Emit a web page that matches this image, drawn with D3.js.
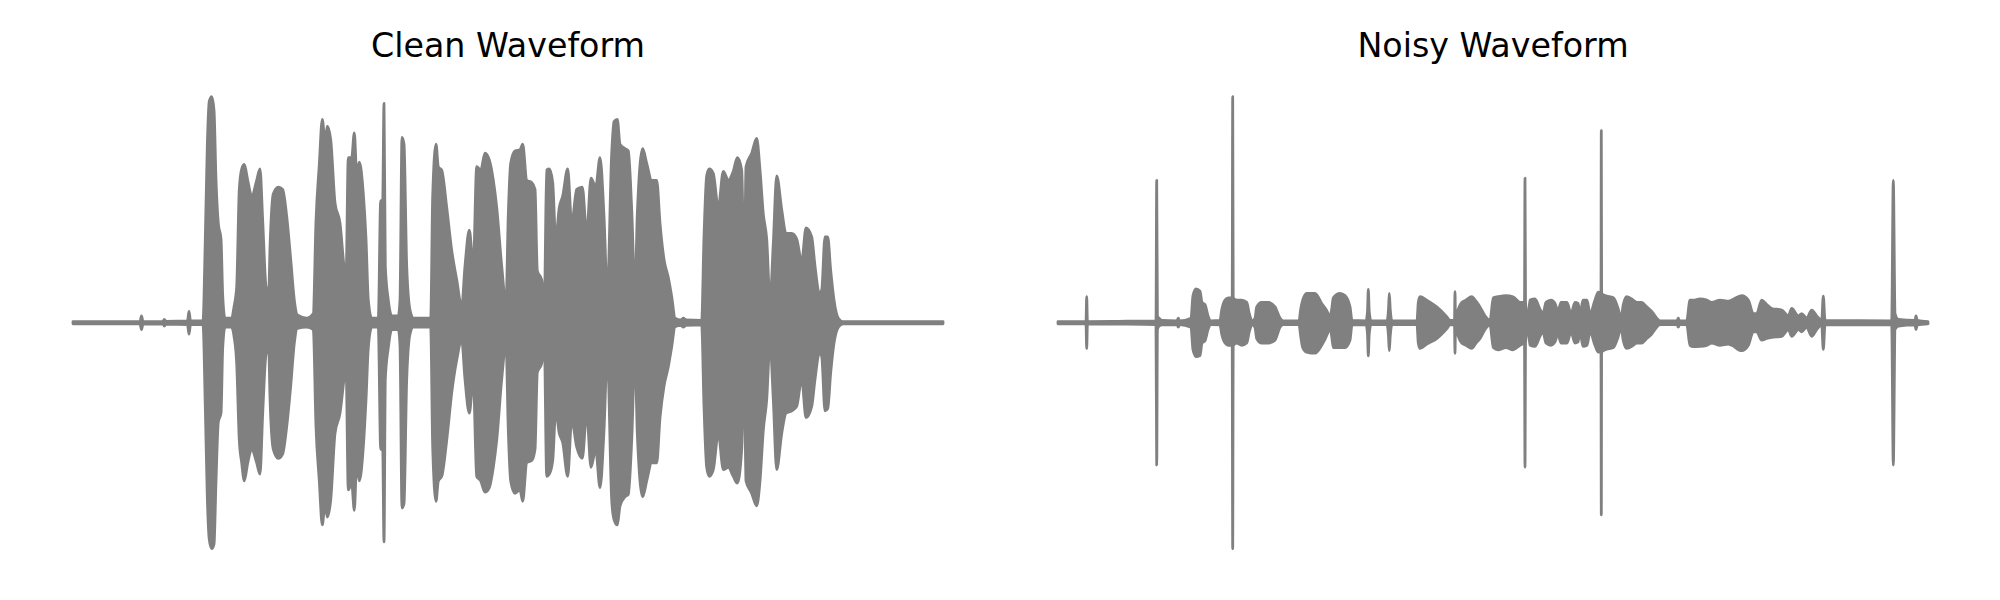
<!DOCTYPE html>
<html>
<head>
<meta charset="utf-8">
<script src="https://cdn.jsdelivr.net/npm/d3@7"></script>
<style>
  html, body { margin: 0; padding: 0; background: #ffffff; }
  svg { display: block; }
</style>
</head>
<body>
<svg id="chart" width="2000" height="600"></svg>
<script>
// ---------------- DATA ----------------
const panelTitles = ["Clean Waveform", "Noisy Waveform"];

// Clean waveform envelope: time (frames), upper peak, lower peak (normalised amplitude)
const cleanTime = [
  0, 67, 68.5, 70, 90, 91.3, 93, 114.5, 116, 117.5,
  130, 132.3, 134.3, 136.3, 138.7, 141, 143, 145.3, 148, 149.7,
  152, 158.7, 161, 163.7, 166.3, 168.7, 171.3, 174.7, 178.7, 183.7,
  187, 189.7, 193, 195.7, 197, 200.3, 205.3, 209.7, 213.7, 217.7,
  221.3, 224.3, 233.7, 240.3, 243, 246.3, 249.3, 252, 254.3, 257.7,
  262, 267, 271, 273, 275.3, 278.7, 281.3, 283.7, 286.3, 290.3,
  293, 295.3, 298.7, 305.3, 307.7, 309.7, 311, 312.3, 315.3, 318.7,
  325.3, 327, 329, 331, 333.7, 337, 340.3, 357.7, 359.7, 363,
  365.3, 368.7, 373.7, 378.7, 383.7, 388.7, 392, 396.3, 400.3, 403.7,
  407.7, 412, 416.3, 420.3, 423.7, 428.7, 433, 435.3, 437.7, 442,
  447, 449.7, 453.7, 458.7, 462, 464.3, 468.7, 471.3, 473.7, 476.3,
  479.7, 482.7, 486.3, 489.7, 494.7, 498.7, 503.7, 509.3, 513.7, 518,
  522.7, 527, 531, 534.3, 538.7, 541, 544.3, 547, 552, 555.3,
  558.7, 562, 564.3, 569.7, 573.7, 578.7, 583.7, 587, 591, 595.3,
  598.7, 602, 608, 610.3, 613, 628.7, 631, 633.7, 636.3, 640.3,
  645.3, 650.3, 655.3, 660.3, 664.3, 668.7, 671.3, 673, 678.7, 683.7,
  687, 690.3, 693.7, 697, 700.3, 703.7, 708.7, 713, 718.7, 723.7,
  728.7, 733, 738.7, 742, 746.3, 748.7, 752, 754.7, 757.7, 761,
  765.3, 770, 870
];
const cleanUpper = [
  .005, .005, .03, .005, .006, .015, .006, .008, .05, .008,
  .008, .37, .78, .98, 1.0, .94, .63, .44, .37, .12,
  .02, .02, .07, .16, .59, .68, .70, .63, .56, .63,
  .68, .45, .16, .13, .33, .57, .60, .59, .47, .28,
  .10, .034, .02, .04, .45, .70, .90, .80, .87, .81,
  .53, .44, .25, .19, .73, .73, .84, .66, .71, .57,
  .37, .10, .02, .02, .54, .54, .97, .25, .10, .03,
  .03, .10, .82, .79, .25, .056, .02, .02, .56, .79,
  .69, .675, .51, .32, .19, .07, .25, .41, .25, .69,
  .675, .75, .72, .63, .51, .25, .085, .48, .705, .76,
  .765, .79, .63, .62, .59, .23, .19, .07, .675, .68,
  .62, .37, .51, .56, .68, .44, .59, .60, .395, .64,
  .60, .73, .47, .13, .75, .89, .90, .79, .77, .76,
  .50, .13, .48, .77, .705, .63, .63, .44, .28, .20,
  .115, .02, .012, .02, .012, .01, .38, .65, .68, .66,
  .51, .67, .63, .67, .73, .675, .19, .69, .75, .815,
  .675, .48, .37, .10, .35, .65, .50, .395, .395, .37,
  .27, .42, .38, .25, .13, .145, .38, .38, .23, .10,
  .02, .005, .005
];
const cleanLower = [
  -.005, -.005, -.03, -.005, -.006, -.015, -.006, -.008, -.05, -.008,
  -.008, -.37, -.77, -.96, -1.0, -.98, -.70, -.44, -.40, -.11,
  -.02, -.02, -.06, -.18, -.52, -.62, -.70, -.62, -.56, -.62,
  -.67, -.40, -.14, -.11, -.33, -.56, -.60, -.58, -.46, -.28,
  -.09, -.025, -.02, -.03, -.46, -.70, -.895, -.80, -.86, -.785,
  -.49, -.40, -.25, -.18, -.74, -.71, -.83, -.62, -.70, -.55,
  -.34, -.11, -.02, -.02, -.56, -.56, -.97, -.25, -.11, -.03,
  -.03, -.10, -.82, -.80, -.25, -.05, -.02, -.02, -.55, -.79,
  -.70, -.68, -.52, -.31, -.165, -.077, -.25, -.40, -.25, -.68,
  -.70, -.75, -.73, -.64, -.52, -.25, -.09, -.475, -.70, -.755,
  -.74, -.79, -.62, -.61, -.56, -.22, -.18, -.077, -.68, -.67,
  -.61, -.39, -.49, -.53, -.68, -.43, -.55, -.60, -.40, -.64,
  -.56, -.73, -.475, -.135, -.785, -.87, -.895, -.81, -.77, -.76,
  -.52, -.135, -.49, -.77, -.70, -.62, -.62, -.42, -.28, -.195,
  -.106, -.018, -.012, -.02, -.012, -.01, -.37, -.64, -.68, -.65,
  -.49, -.65, -.64, -.68, -.71, -.56, -.195, -.70, -.755, -.81,
  -.70, -.475, -.34, -.09, -.34, -.65, -.49, -.40, -.39, -.37,
  -.25, -.42, -.37, -.25, -.135, -.15, -.39, -.38, -.22, -.09,
  -.02, -.005, -.005
];

// Noisy waveform envelope
const noisyTime = [
  0, 28, 28.7, 29.4, 60, 98, 98.7, 99.4, 101, 104,
  119, 120.3, 121.5, 133, 135, 138, 142, 144, 147, 150,
  153, 162, 163.7, 167, 170.3, 174.2, 174.7, 175.2, 178.7, 183.7,
  188.7, 191.3, 194, 197, 198.7, 203.7, 210.3, 217, 222, 225,
  241, 242.7, 244.7, 248.7, 257, 263.7, 270.3, 272, 273.7, 275.3,
  282, 287, 292, 294, 308, 309.5, 310.3, 311.2, 313, 329,
  330.5, 331.3, 332.2, 334, 359, 360.3, 362, 368.7, 378.7, 388.7,
  392, 396.5, 397, 397.5, 400.3, 403.7, 408, 413.7, 418, 422,
  427, 432, 435.3, 440, 448, 455, 462, 466.5, 467, 467.5,
  470, 472, 477, 482, 485, 488, 493, 497, 500, 503,
  509, 513, 517, 520, 522, 525, 529, 532, 537, 540.3,
  543, 543.3, 543.6, 547, 555.3, 560.3, 563, 565.3, 568.7, 575.3,
  578.7, 583.7, 588.7, 593.7, 598.7, 602, 619, 620.3, 621.5, 628.7,
  632, 635.3, 642, 648.7, 653.7, 662, 670.3, 673.7, 683.7, 690.3,
  695.3, 698.7, 703.7, 708.7, 713.7, 723.7, 730.3, 733.7, 740.3, 743.7,
  748.7, 753.7, 758.7, 763.7, 765.3, 767, 833.7, 835.3, 837, 840.3,
  857, 858, 859.3, 870
];
const noisyUpper = [
  .005, .005, .115, .005, .006, .008, .63, .03, .02, .01,
  .008, .02, .008, .02, .12, .15, .14, .09, .08, .03,
  .008, .01, .056, .10, .11, .11, 1.0, .11, .10, .10,
  .09, .04, .008, .02, .07, .09, .09, .07, .02, .008,
  .008, .06, .10, .13, .13, .085, .04, .02, .06, .11,
  .13, .12, .07, .01, .008, .05, .147, .05, .008, .008,
  .06, .13, .06, .008, .008, .09, .115, .10, .07, .027,
  .01, .01, .137, .01, .06, .09, .10, .115, .095, .07,
  .03, .01, .11, .115, .12, .115, .09, .09, .64, .09,
  .02, .10, .105, .06, .04, .09, .10, .085, .05, .09,
  .09, .04, .09, .085, .04, .10, .10, .04, .10, .135,
  .13, .85, .13, .12, .11, .06, .02, .08, .115, .10,
  .09, .09, .07, .05, .02, .008, .008, .02, .008, .008,
  .10, .10, .105, .10, .09, .10, .095, .10, .12, .10,
  .04, .04, .10, .08, .063, .056, .03, .063, .03, .04,
  .02, .056, .03, .01, .118, .01, .008, .63, .04, .015,
  .01, .03, .01, .005
];
const noisyLower = [
  -.005, -.005, -.114, -.005, -.006, -.008, -.63, -.03, -.015, -.01,
  -.008, -.02, -.008, -.02, -.12, -.15, -.145, -.09, -.08, -.03,
  -.008, -.01, -.05, -.09, -.10, -.10, -1.0, -.10, -.09, -.10,
  -.09, -.04, -.008, -.02, -.07, -.09, -.09, -.077, -.02, -.008,
  -.008, -.06, -.11, -.13, -.135, -.10, -.04, -.02, -.06, -.11,
  -.11, -.11, -.077, -.01, -.008, -.05, -.147, -.05, -.008, -.008,
  -.06, -.124, -.06, -.008, -.008, -.09, -.114, -.095, -.07, -.027,
  -.01, -.01, -.136, -.01, -.06, -.09, -.10, -.114, -.09, -.07,
  -.03, -.01, -.11, -.12, -.11, -.12, -.10, -.09, -.64, -.09,
  -.02, -.10, -.105, -.06, -.04, -.09, -.10, -.085, -.05, -.09,
  -.09, -.04, -.09, -.085, -.04, -.105, -.10, -.04, -.10, -.13,
  -.13, -.85, -.13, -.12, -.11, -.06, -.02, -.08, -.114, -.10,
  -.09, -.09, -.07, -.05, -.02, -.008, -.008, -.02, -.008, -.008,
  -.10, -.106, -.105, -.10, -.09, -.10, -.095, -.10, -.124, -.10,
  -.04, -.04, -.077, -.07, -.065, -.06, -.03, -.06, -.03, -.04,
  -.02, -.06, -.03, -.01, -.118, -.01, -.008, -.63, -.03, -.015,
  -.01, -.03, -.01, -.005
];

// ---------------- DRAWING ----------------
const svg = d3.select("#chart");
svg.append("rect").attr("width", 2000).attr("height", 600).attr("fill", "#ffffff");

function rows(t, hi, lo) {
  if (t.length !== hi.length || t.length !== lo.length) {
    console.error("length mismatch", t.length, hi.length, lo.length);
  }
  return t.map((v, i) => ({ t: v, hi: hi[i], lo: lo[i] }));
}

const panels = [
  { title: panelTitles[0], data: rows(cleanTime, cleanUpper, cleanLower), range: [73, 943] },
  { title: panelTitles[1], data: rows(noisyTime, noisyUpper, noisyLower), range: [1058, 1928] }
];

const y = d3.scaleLinear().domain([-1, 1]).range([548.7, 96.7]);

panels.forEach(p => {
  const x = d3.scaleLinear().domain([0, 870]).range(p.range);
  const g = svg.append("g");
  const area = d3.area()
    .x(d => x(d.t))
    .y0(d => y(d.lo))
    .y1(d => y(d.hi))
    .curve(d3.curveMonotoneX);
  g.append("path")
    .datum(p.data)
    .attr("d", area)
    .attr("fill", "#808080")
    .attr("stroke", "#808080")
    .attr("stroke-width", 2.8)
    .attr("stroke-linejoin", "round");

  g.append("text")
    .attr("x", (p.range[0] + p.range[1]) / 2)
    .attr("y", 57)
    .attr("text-anchor", "middle")
    .attr("font-family", "DejaVu Sans")
    .attr("font-size", "33.3px")
    .attr("fill", "#000000")
    .text(p.title);
});
</script>
</body>
</html>
